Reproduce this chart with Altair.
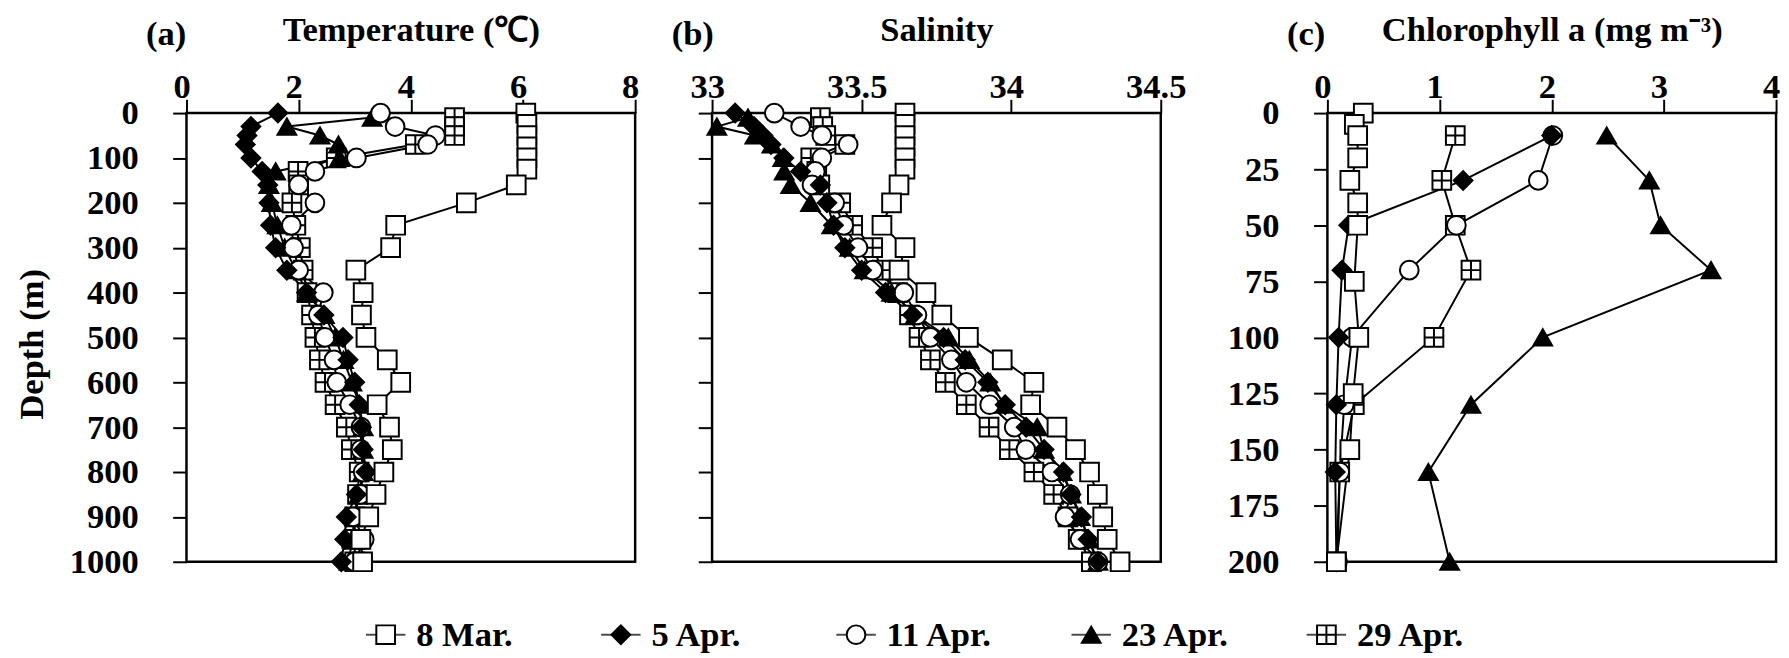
import altair as alt
import pandas as pd

FONT = "Liberation Serif"

series = ["8 Mar.", "5 Apr.", "11 Apr.", "23 Apr.", "29 Apr."]
draw_order = ["29 Apr.", "23 Apr.", "11 Apr.", "5 Apr.", "8 Mar."]
shapes = ["square", "diamond", "circle", "triangle-up", "M-1,-1H1V1H-1Z M0,-1V1 M-1,0H1"]
fills = ["white", "black", "white", "black", "white"]

# ---- sampling depths (m) for temperature & salinity ----
depth_ts_mar08 = [0, 25, 50, 75, 100, 125, 160, 200, 250, 300, 350, 400, 450, 500, 550, 600,
                  650, 700, 750, 800, 850, 900, 950, 1000]
depth_ts_apr05 = [0, 30, 50, 70, 100, 130, 160, 200, 250, 300, 350, 400, 450, 500, 550, 600,
                  650, 700, 750, 800, 850, 900, 950, 1000]
depth_ts_apr11 = [0, 30, 50, 70, 100, 130, 160, 200, 250, 300, 350, 400, 450, 500, 550, 600,
                  650, 700, 750, 800, 850, 900, 950, 1000]
depth_ts_apr23 = [10, 30, 50, 70, 100, 130, 160, 200, 250, 300, 350, 400, 450, 500, 550, 600,
                  650, 700, 750, 800, 850, 900, 950, 1000]
depth_ts_apr29 = [10, 30, 50, 70, 100, 130, 160, 200, 250, 300, 350, 400, 450, 500, 550, 600,
                  650, 700, 750, 800, 850, 900, 950, 1000]

# ---- temperature (deg C) ----
temp_mar08 = [6.05, 6.07, 6.07, 6.07, 6.07, 6.07, 5.88, 4.99, 3.73, 3.64, 3.02, 3.15, 3.12, 3.2,
              3.58, 3.82, 3.4, 3.62, 3.67, 3.52, 3.38, 3.25, 3.11, 3.14]
temp_apr05 = [1.63, 1.15, 1.08, 1.05, 1.15, 1.35, 1.45, 1.47, 1.5, 1.59, 1.79, 2.14, 2.45, 2.79,
              2.88, 3.0, 3.08, 3.12, 3.15, 3.2, 3.03, 2.85, 2.82, 2.76]
temp_apr11 = [3.46, 3.72, 4.44, 4.3, 3.03, 2.29, 2.0, 2.29, 1.87, 1.91, 2.0, 2.44, 2.35, 2.47,
              2.63, 2.68, 2.91, 3.11, 3.11, 3.15, 3.1, 2.97, 3.17, 3.0]
temp_apr23 = [3.31, 1.79, 2.38, 2.71, 2.73, 1.59, 1.47, 1.52, 1.62, 1.75, 1.95, 2.15, 2.46, 2.65,
              2.8, 2.95, 3.08, 3.15, 3.15, 3.15, 3.08, 3.0, 2.95, 2.9]
temp_apr29 = [4.78, 4.78, 4.78, 4.08, 2.67, 1.99, 2.0, 1.88, 1.95, 2.03, 2.08, 2.15, 2.23, 2.29,
              2.37, 2.47, 2.65, 2.85, 2.94, 3.08, 3.05, 3.0, 3.0, 3.0]

# ---- salinity ----
sal_mar08 = [33.645, 33.645, 33.645, 33.645, 33.645, 33.645, 33.625, 33.60, 33.568, 33.645,
             33.625, 33.715, 33.768, 33.857, 33.97, 34.076, 34.065, 34.153, 34.215, 34.262,
             34.288, 34.306, 34.321, 34.364]
sal_apr05 = [33.077, 33.14, 33.17, 33.197, 33.24, 33.296, 33.362, 33.384, 33.406, 33.444, 33.5,
             33.58, 33.67, 33.774, 33.846, 33.922, 33.98, 34.05, 34.11, 34.175, 34.2, 34.235,
             34.257, 34.29]
sal_apr11 = [33.208, 33.296, 33.367, 33.455, 33.367, 33.345, 33.334, 33.41, 33.44, 33.488, 33.537,
             33.641, 33.685, 33.73, 33.8, 33.85, 33.928, 34.01, 34.049, 34.136, 34.197, 34.18,
             34.23, 34.29]
sal_apr23 = [33.12, 33.016, 33.143, 33.2, 33.236, 33.241, 33.263, 33.329, 33.4, 33.46, 33.51,
             33.6, 33.68, 33.79, 33.86, 33.93, 33.977, 34.087, 34.11, 34.17, 34.2, 34.23, 34.26,
             34.29]
sal_apr29 = [33.362, 33.37, 33.38, 33.444, 33.33, 33.35, 33.36, 33.43, 33.47, 33.537, 33.57,
             33.62, 33.66, 33.692, 33.73, 33.78, 33.85, 33.926, 33.994, 34.076, 34.142, 34.19,
             34.224, 34.268]

# ---- chlorophyll a (mg m-3) ----
depth_chl_mar08 = [0, 5, 10, 20, 30, 40, 50, 75, 100, 125, 150, 200]
chl_mar08 = [0.32, 0.24, 0.27, 0.27, 0.2, 0.27, 0.27, 0.24, 0.28, 0.23, 0.2, 0.08]
depth_chl_apr = [10, 30, 50, 70, 100, 130, 160, 200]
chl_apr05 = [2.0, 1.21, 0.19, 0.13, 0.1, 0.08, 0.07, 0.08]
chl_apr11 = [2.01, 1.88, 1.15, 0.73, 0.22, 0.15, 0.11, 0.09]
chl_apr23 = [2.49, 2.87, 2.97, 3.42, 1.92, 1.28, 0.9, 1.09]
chl_apr29 = [1.14, 1.02, 1.14, 1.28, 0.95, 0.24, 0.11, 0.08]

ts_depths = {"8 Mar.": depth_ts_mar08, "5 Apr.": depth_ts_apr05, "11 Apr.": depth_ts_apr11,
             "23 Apr.": depth_ts_apr23, "29 Apr.": depth_ts_apr29}
temps = {"8 Mar.": temp_mar08, "5 Apr.": temp_apr05, "11 Apr.": temp_apr11,
         "23 Apr.": temp_apr23, "29 Apr.": temp_apr29}
sals = {"8 Mar.": sal_mar08, "5 Apr.": sal_apr05, "11 Apr.": sal_apr11,
        "23 Apr.": sal_apr23, "29 Apr.": sal_apr29}
chl_depths = {"8 Mar.": depth_chl_mar08, "5 Apr.": depth_chl_apr, "11 Apr.": depth_chl_apr,
              "23 Apr.": depth_chl_apr, "29 Apr.": depth_chl_apr}
chls = {"8 Mar.": chl_mar08, "5 Apr.": chl_apr05, "11 Apr.": chl_apr11,
        "23 Apr.": chl_apr23, "29 Apr.": chl_apr29}


def long_df(depths, values):
    rows = []
    for name in draw_order:
        for d, v in zip(depths[name], values[name]):
            rows.append({"series": name, "depth": d, "value": v})
    return pd.DataFrame(rows)


shape_enc = alt.Shape("series:N", scale=alt.Scale(domain=series, range=shapes), legend=None)
fill_enc = alt.Fill("series:N", scale=alt.Scale(domain=series, range=fills), legend=None)

PW, PH = 455, 455


def panel(df, tag, xtitle, xdomain, xticks, ydomain, yticks, ylabels, ytitle):
    xaxis = alt.Axis(orient="top", values=xticks, format="~g", title=xtitle,
                     titleY=-74, titleBaseline="alphabetic",
                     labelBaseline="alphabetic", labelPadding=2, labelOffset=-5)
    if ytitle:
        yaxis = alt.Axis(values=yticks, labels=ylabels, labelPadding=35, format="d",
                         title=ytitle, titleX=-145.5, titleY=234, titleBaseline="alphabetic")
    else:
        yaxis = alt.Axis(values=yticks, labels=ylabels, labelPadding=35, format="d", title=None)
    x = alt.X("value:Q", scale=alt.Scale(domain=xdomain, nice=False, zero=False), axis=xaxis)
    y = alt.Y("depth:Q", scale=alt.Scale(domain=ydomain, reverse=True, nice=False, zero=False),
              axis=yaxis)
    lines = alt.Chart(df).mark_line(color="black", strokeWidth=2).encode(
        x=x, y=y, detail="series:N", order="depth:Q")
    pts = alt.Chart(df).mark_point(filled=True, size=360, stroke="black", strokeWidth=2,
                                   opacity=1).encode(x=x, y=y, shape=shape_enc, fill=fill_enc)
    return alt.layer(lines, pts).properties(
        width=PW, height=PH,
        title=alt.TitleParams(text=tag, anchor="start", frame="group", dx=-41, offset=-68,
                              baseline="alphabetic", font=FONT, fontSize=35,
                              fontWeight="bold", color="black"))


pa = panel(long_df(ts_depths, temps), "(a)", "Temperature (\u2103)", [0, 8], [0, 2, 4, 6, 8],
           [0, 1000], [0, 100, 200, 300, 400, 500, 600, 700, 800, 900, 1000], True, "Depth (m)")
pb = panel(long_df(ts_depths, sals), "(b)", "Salinity", [33, 34.5], [33, 33.5, 34, 34.5],
           [0, 1000], [0, 100, 200, 300, 400, 500, 600, 700, 800, 900, 1000], False, None)
pc = panel(long_df(chl_depths, chls), "(c)", "Chlorophyll a (mg m\u207b\u00b3)", [0, 4],
           [0, 1, 2, 3, 4], [0, 200], [0, 25, 50, 75, 100, 125, 150, 175, 200], True, None)

legend_df = pd.DataFrame({"series": series})
lx = alt.X("series:N", sort=series, scale=alt.Scale(type="point", range=[202, 1156], padding=0),
           axis=None)
leg_line = alt.Chart(legend_df).mark_tick(orient="horizontal", size=40, thickness=2,
                                          color="black").encode(x=lx)
leg_pts = alt.Chart(legend_df).mark_point(filled=True, size=360, stroke="black", strokeWidth=2,
                                          opacity=1).encode(x=lx, shape=shape_enc, fill=fill_enc)
leg_txt = alt.Chart(legend_df).mark_text(align="left", baseline="middle", dx=31, font=FONT,
                                         fontSize=35, fontWeight="bold", color="black").encode(
    x=lx, text="series:N")
legend = alt.layer(leg_line, leg_pts, leg_txt).properties(
    width=1320, height=36, view=alt.ViewBackground(strokeWidth=0))

top = alt.hconcat(alt.hconcat(pa, pb, spacing=30), pc, spacing=39)
chart = alt.vconcat(top, legend, spacing=36).properties(
    padding={"left": 6, "top": -2, "right": 0, "bottom": 0}
).configure_view(stroke="black", strokeWidth=2.5).configure_axis(
    domain=False, grid=False, ticks=True, tickColor="black", tickWidth=2, tickSize=14,
    labelFont=FONT, labelFontSize=35, labelFontWeight="bold", labelColor="black",
    labelOverlap=False, labelFlush=False,
    titleFont=FONT, titleFontSize=35, titleFontWeight="bold", titleColor="black"
)

chart.save("out.html", embed_options={"renderer": "svg", "actions": False})
